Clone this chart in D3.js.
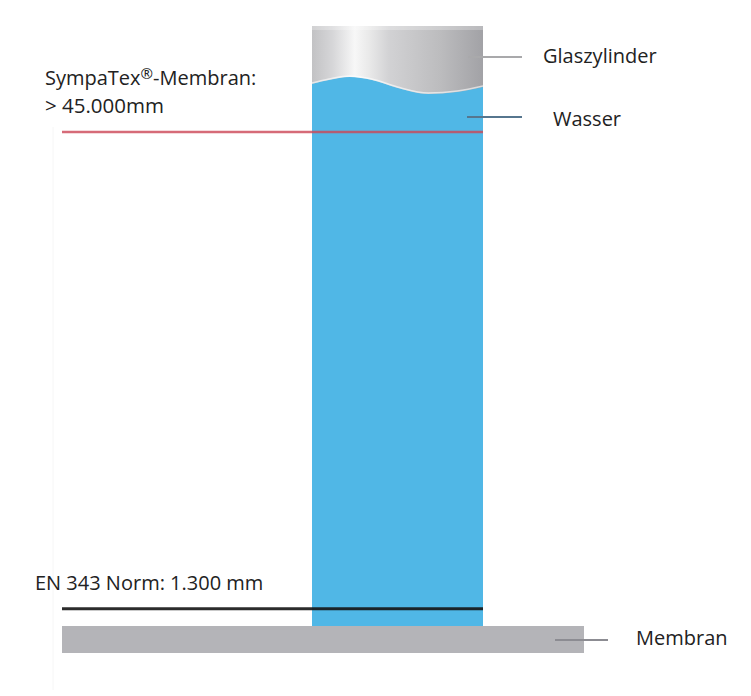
<!DOCTYPE html>
<html><head><meta charset="utf-8">
<script src="https://cdn.jsdelivr.net/npm/d3@7"></script>
<style>body{margin:0;background:#fff}svg{display:block}text{font-family:"Open Sans",sans-serif;fill:#222}</style>
</head><body>
<script>
// Water pressure levels (mm water column)
const levelValues = [45000, 1300];
const levelTitles = ["SympaTex®-Membran:", "EN 343 Norm: 1.300 mm"];
const levelSubtitles = ["> 45.000mm", ""];
const levelColors = ["#cc4656", "#141414"];
// Component labels
const partNames = ["Glaszylinder", "Wasser", "Membran"];

const W = 751, H = 696;
const svg = d3.select("body").append("svg").attr("width", W).attr("height", H);
const defs = svg.append("defs");

const y = d3.scaleLinear().domain([0, 45000]).range([623, 132]);
const x0 = 62, lineEnd = 483, cylL = 312, cylR = 483, cylTop = 26, cylBottom = 626;
const memTop = 626, memBottom = 653, memRight = 584;

// faint background guide
svg.append("line").attr("x1", 53).attr("x2", 53).attr("y1", 127).attr("y2", 690)
  .attr("stroke", "#f6f6f6").attr("stroke-width", 1);

// glass gradient
const g = defs.append("linearGradient").attr("id", "glass").attr("x1", 0).attr("x2", 1).attr("y1", 0).attr("y2", 0);
[[0, "#c2c2c4"], [0.12, "#d6d6d8"], [0.25, "#f7f7f7"], [0.33, "#eaeaea"], [0.45, "#d2d2d4"], [0.75, "#bcbcbe"], [1, "#a2a2a6"]]
  .forEach(([o, c]) => g.append("stop").attr("offset", o).attr("stop-color", c));

svg.append("rect").attr("x", cylL).attr("y", cylTop).attr("width", cylR - cylL).attr("height", 120)
  .attr("fill", "url(#glass)");
svg.append("rect").attr("x", cylL).attr("y", cylTop).attr("width", cylR - cylL).attr("height", 4)
  .attr("fill", "#ffffff").attr("fill-opacity", 0.25);

// water with wavy surface (relative wave shape)
const waveShape = [[0, 84], [0.1, 80], [0.22, 77], [0.35, 80], [0.5, 88], [0.68, 94], [0.85, 92], [1, 87]];
const waveX = d3.scaleLinear().domain([0, 1]).range([cylL, cylR]);
const wavePts = waveShape.map(d => [waveX(d[0]), d[1]]);
const waveLine = d3.line().curve(d3.curveMonotoneX);
const waterPath = waveLine(wavePts) + `L${cylR},${cylBottom}L${cylL},${cylBottom}Z`;
svg.append("path").attr("d", waterPath).attr("fill", "#50b7e6");
svg.append("path").attr("d", waveLine(wavePts)).attr("fill", "none")
  .attr("stroke", "#ffffff").attr("stroke-opacity", 0.6).attr("stroke-width", 1.5)
  .attr("transform", "translate(0,-1)");

// membrane bar
svg.append("rect").attr("x", x0).attr("y", memTop).attr("width", memRight - x0).attr("height", memBottom - memTop)
  .attr("fill", "#b4b4b8");

// level lines
svg.selectAll("line.level").data(levelValues).join("line").attr("class", "level")
  .attr("x1", x0).attr("x2", lineEnd)
  .attr("y1", d => y(d)).attr("y2", d => y(d))
  .attr("stroke", (d, i) => levelColors[i])
  .attr("stroke-opacity", (d, i) => i === 0 ? 0.8 : 0.9)
  .attr("stroke-width", (d, i) => i === 0 ? 2.5 : 3);

// level labels
levelValues.forEach((v, i) => {
  const hasSub = levelSubtitles[i] !== "";
  const tx = i === 0 ? 45 : 35;
  const t = svg.append("text").attr("x", tx).attr("y", y(v) - (hasSub ? 47 : 19)).attr("font-size", 20);
  const parts = levelTitles[i].split("®");
  if (parts.length > 1) {
    t.append("tspan").text(parts[0]);
    t.append("tspan").attr("font-size", 15).attr("dy", -6).text("®");
    t.append("tspan").attr("dy", 6).text(parts[1]);
  } else t.text(levelTitles[i]);
  if (hasSub) svg.append("text").attr("x", tx).attr("y", y(v) - 19).attr("font-size", 20.5).text(levelSubtitles[i]);
});

// component leaders + labels
const leaderY = [57, 117, 640];
const leaderX1 = [468, 467, 555];
const leaderX2 = [522, 522, 608];
const leaderColors = ["#a9a9ab", "#56768e", "#8c8c92"];
const labelX = [543, 553, 636];
const labelY = [63, 126, 645];
partNames.forEach((n, i) => {
  svg.append("line").attr("x1", leaderX1[i]).attr("x2", leaderX2[i]).attr("y1", leaderY[i]).attr("y2", leaderY[i])
    .attr("stroke", leaderColors[i]).attr("stroke-width", 2);
  svg.append("text").attr("x", labelX[i]).attr("y", labelY[i]).attr("font-size", 20).text(n);
});
</script>
</body></html>
